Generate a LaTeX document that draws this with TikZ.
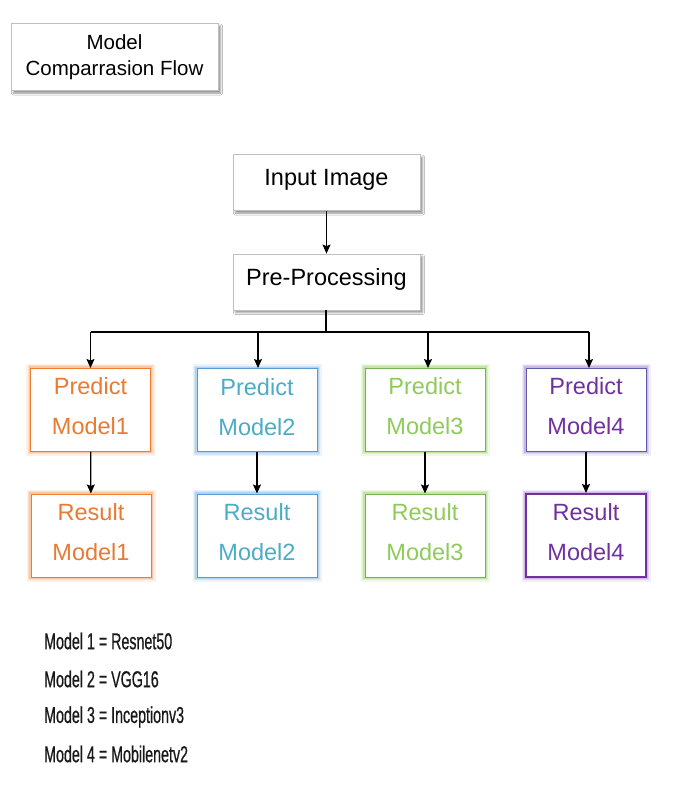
\documentclass[tikz,border=0pt]{standalone}
\usepackage{fontspec}
\setmainfont{Liberation Sans}
\newfontfamily\legendfont[FakeStretch=0.62,FakeBold=0.6]{Liberation Sans}
\usetikzlibrary{arrows.meta,shadows.blur}
\definecolor{borange}{HTML}{ED7D31}
\definecolor{torange}{HTML}{E97A34}
\definecolor{gorange}{HTML}{F8B98F}
\definecolor{bblue}{HTML}{5B9BD5}
\definecolor{tblue}{HTML}{4BACC6}
\definecolor{gblue}{HTML}{9DCBF0}
\definecolor{bgreen}{HTML}{77B055}
\definecolor{tgreen}{HTML}{8FCB5A}
\definecolor{ggreen}{HTML}{B5E08F}
\definecolor{bpurple}{HTML}{5D5DAE}
\definecolor{tpurple}{HTML}{7030A0}
\definecolor{gpurple}{HTML}{BFA8DC}
\definecolor{graybd}{HTML}{BFBFBF}
\tikzset{
  graybox/.style={draw=graybd, fill=white, line width=0.8pt,
    blur shadow={shadow xshift=2.5pt, shadow yshift=-2.5pt, shadow blur radius=2pt, shadow opacity=45},
    minimum width=187pt, minimum height=56pt, inner sep=0pt,
    font=\fontsize{23.5}{26}\selectfont},
  glow/.style={preaction={draw=#1, line width=9pt, opacity=0.2},
    preaction={draw=#1, line width=6pt, opacity=0.35},
    preaction={draw=#1, line width=3.5pt, opacity=0.6}},
  modelbox/.style={fill=white, line width=1pt, minimum width=120pt, minimum height=83pt,
    inner sep=0pt, align=center, font=\fontsize{23.5}{40}\selectfont},
  arr/.style={-{Stealth[length=9pt,width=8pt,inset=1.5pt]}, line width=1.2pt, black},
  legend/.style={anchor=west, inner sep=0pt, text=black!90, font=\legendfont\fontsize{23}{25}\selectfont}
}
\begin{document}
\begin{tikzpicture}[x=1pt,y=1pt]
\useasboundingbox[fill=white] (0,0) rectangle (682,-809);

\node[graybox, minimum width=207pt, minimum height=67pt, align=center,
  font=\fontsize{20.5}{26}\selectfont] (title) at (114.5,-57) {Model\\Comparrasion Flow};

\node[graybox, text depth=11pt] (input) at (326.5,-182.5) {Input Image};
\node[graybox, text depth=10pt] (pre) at (326.5,-282) {Pre-Processing};

\tikzset{predtxt/.style={text depth=7pt}}
\node[modelbox, predtxt, draw=borange, glow=gorange, text=torange] (p1) at (90.5,-409.5) {Predict\\Model1};
\node[modelbox, predtxt, draw=bblue, glow=gblue, text=tblue] (p2) at (257,-410) {Predict\\Model2};
\node[modelbox, predtxt, draw=bgreen, glow=ggreen, text=tgreen] (p3) at (425,-409.5) {Predict\\Model3};
\node[modelbox, predtxt, draw=bpurple, glow=gpurple, text=tpurple] (p4) at (586,-409.5) {Predict\\Model4};

\node[modelbox, predtxt, draw=borange, glow=gorange, text=torange] (r1) at (91,-535.5) {Result\\Model1};
\node[modelbox, predtxt, draw=bblue, glow=gblue, text=tblue] (r2) at (257,-535.5) {Result\\Model2};
\node[modelbox, predtxt, draw=bgreen, glow=ggreen, text=tgreen] (r3) at (425,-535.5) {Result\\Model3};
\node[modelbox, predtxt, draw=tpurple, line width=2pt, glow=gpurple, text=tpurple] (r4) at (586,-535.5) {Result\\Model4};

\coordinate (bar) at (326,-332);
\draw[arr] (input) -- (pre);
\draw[line width=1.2pt] (pre.south -| bar) -- (bar);
\draw[line width=1.2pt] (90.5,-332) -- (589,-332);
\foreach \i/\xx in {1/90.5,2/258,3/428,4/589}{
  \draw[arr] (\xx,-332) -- (\xx,-368);
}
\draw[arr] (p1) -- (r1);
\draw[arr] (p2) -- (r2);
\draw[arr] (p3) -- (r3);
\draw[arr] (p4) -- (r4);

\node[legend] (l1) at (44,-641) {Model 1 = Resnet50};
\node[legend] (l2) at (44,-679) {Model 2 = VGG16};
\node[legend] (l3) at (44,-717) {Model 3 = Inceptionv3};
\node[legend] (l4) at (44,-754) {Model 4 = Mobilenetv2};
\end{tikzpicture}
\end{document}
